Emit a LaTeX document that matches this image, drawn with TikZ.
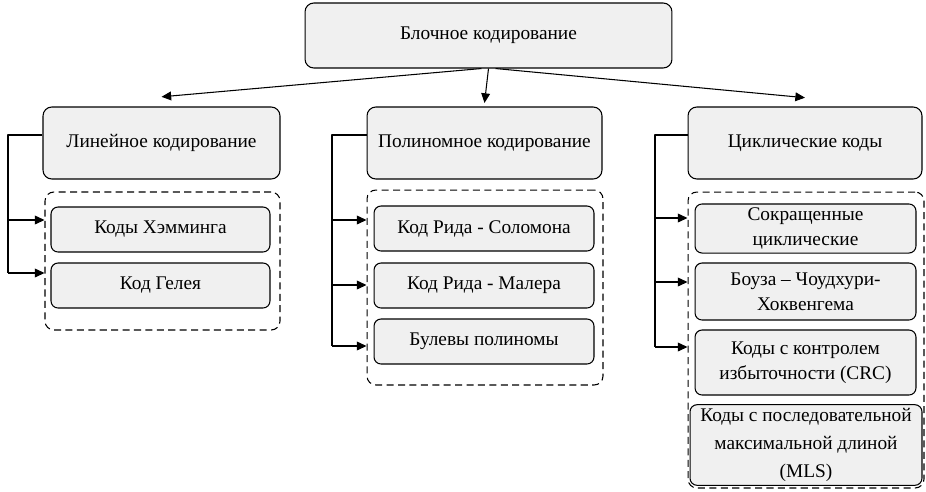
\documentclass[tikz,border=0pt]{standalone}
\usepackage{fontspec}
\setmainfont{Liberation Serif}
\usetikzlibrary{arrows.meta}

\begin{document}
\begin{tikzpicture}[x=0.02cm,y=-0.02cm,line join=round,
    font=\fontsize{11}{14.5}\selectfont,
    blocco/.style={draw,line width=0.6pt,rounded corners=5pt,fill=black!6,
                   align=center,inner sep=2pt},
    voce/.style={blocco,rounded corners=4pt},
    gruppo/.style={draw,line width=0.6pt,dash pattern=on 4pt off 2.5pt,
                   rounded corners=5pt,inner sep=0pt},
    linea/.style={line width=0.6pt},
    freccia/.style={line width=0.6pt,-{Triangle[length=5.5pt,width=5pt]}}]

  \useasboundingbox (0,0) rectangle (926,491);

  % radice
  \node[blocco,minimum width=7.34cm,minimum height=1.3cm] (top) at (488.5,35.5)
       {Блочное кодирование};

  % ---- i tre rami ----------------------------------------------------------
  \node[blocco,minimum width=4.74cm,minimum height=1.44cm] (L) at (161.5,143)
       {Линейное кодирование};
  \node[blocco,minimum width=4.7cm,minimum height=1.44cm] (M) at (484.5,143)
       {Полиномное кодирование};
  \node[blocco,minimum width=4.68cm,minimum height=1.44cm] (R) at (805,143)
       {Циклические коды};

  \draw[freccia] ([xshift=-4pt]top.south) -- ([yshift=5.5pt]L.north);
  \draw[freccia] (top.south) -- ([yshift=2pt]M.north);
  \draw[freccia] ([xshift=4pt]top.south) -- ([yshift=5pt]R.north);

  % ---- gruppo sinistro -----------------------------------------------------
  \node[gruppo,minimum width=4.7cm,minimum height=2.76cm] (gL) at (162.5,261) {};
  \node[voce,minimum width=4.38cm,minimum height=0.9cm] (L1) at (160.5,229.5)
       {Коды Хэмминга};
  \node[voce,minimum width=4.38cm,minimum height=0.9cm] (L2) at (160.5,285.5)
       {Код Гелея};

  \coordinate (a0) at (8,135);
  \coordinate (a1) at (8,220);
  \coordinate (a2) at (8,273);
  \draw[linea] (L.west |- a0) -- (a0) -- (a2);
  \draw[freccia] (a1) -- (gL.west |- a1);
  \draw[freccia] (a2) -- (gL.west |- a2);

  % ---- gruppo centrale -----------------------------------------------------
  \node[gruppo,minimum width=4.72cm,minimum height=3.9cm] (gM) at (485,287.5) {};
  \node[voce,minimum width=4.4cm,minimum height=0.9cm] (M1) at (484,228.5)
       {Код Рида - Соломона};
  \node[voce,minimum width=4.4cm,minimum height=0.9cm] (M2) at (484,285.5)
       {Код Рида - Малера};
  \node[voce,minimum width=4.4cm,minimum height=0.9cm] (M3) at (484,341.5)
       {Булевы полиномы};

  \coordinate (b0) at (332,135);
  \coordinate (b1) at (332,220);
  \coordinate (b2) at (332,285);
  \coordinate (b3) at (332,346);
  \draw[linea] (M.west |- b0) -- (b0) -- (b3);
  \draw[freccia] (b1) -- (gM.west |- b1);
  \draw[freccia] (b2) -- (gM.west |- b2);
  \draw[freccia] (b3) -- (gM.west |- b3);

  % ---- gruppo destro -------------------------------------------------------
  \node[gruppo,minimum width=4.72cm,minimum height=5.92cm] (gR) at (806,340) {};
  \node[voce,minimum width=4.42cm,minimum height=0.94cm] (R1) at (805.5,228.5)
       {Сокращенные\\циклические};
  \node[voce,minimum width=4.42cm,minimum height=1.14cm] (R2) at (805.5,291.5)
       {Боуза – Чоудхури-\\Хоквенгема};
  \node[voce,minimum width=4.42cm,minimum height=1.3cm] (R3) at (805.5,362.5)
       {Коды с контролем\\избыточности (CRC)};
  \node[voce,minimum width=4.64cm,minimum height=1.6cm,
        font=\fontsize{11}{16}\selectfont] (R4) at (806,445)
       {Коды с последовательной\\максимальной длиной\\(MLS)};

  \coordinate (c0) at (655,135);
  \coordinate (c1) at (655,218);
  \coordinate (c2) at (655,282);
  \coordinate (c3) at (655,347);
  \draw[linea] (R.west |- c0) -- (c0) -- (c3);
  \draw[freccia] (c1) -- (gR.west |- c1);
  \draw[freccia] (c2) -- (gR.west |- c2);
  \draw[freccia] (c3) -- (gR.west |- c3);

\end{tikzpicture}
\end{document}
